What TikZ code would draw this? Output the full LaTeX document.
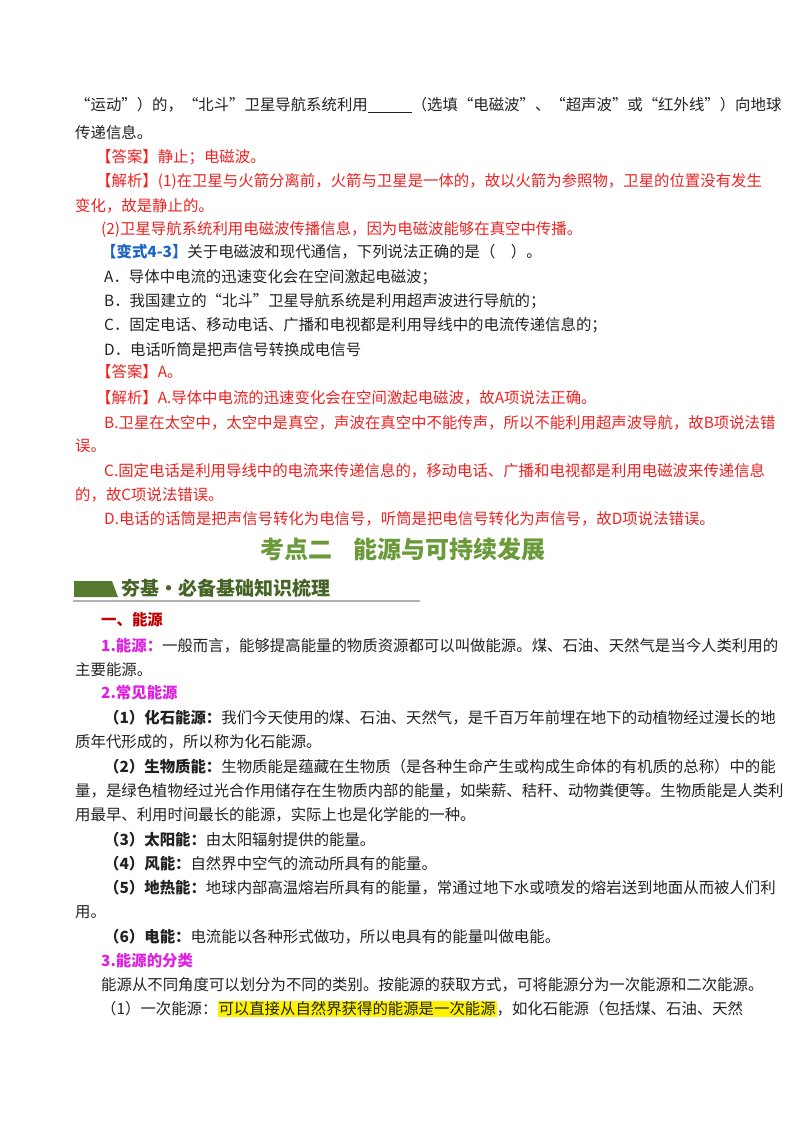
\documentclass[tikz,border=0pt]{standalone}
\usepackage{fontspec}
\setmainfont{Noto Sans CJK SC}
\definecolor{ansred}{HTML}{EE2222}
\definecolor{varblue}{HTML}{1E64C8}
\definecolor{kdgreen}{HTML}{6B9A3A}
\definecolor{sechead}{HTML}{C00000}
\definecolor{subhead}{HTML}{E020E0}
\definecolor{bodytext}{HTML}{222222}
\tikzset{
  txt/.style={anchor=west, inner sep=0pt, font=\fontsize{15.4}{18}\selectfont, text=bodytext},
  red/.style={txt, text=ansred},
}
\begin{document}
\begin{tikzpicture}[x=1pt, y=-1pt]
    \useasboundingbox[fill=white] (0,0) rectangle (800,1132);
    % 上一题的结尾
    \node[txt] (t1) at (75,105) {“运动”）的，“北斗”卫星导航系统利用\underline{\hspace{44pt}}（选填“电磁波”、“超声波”或“红外线”）向地球};
    \node[txt] (t2) at (75,133) {传递信息。};
    \node[red] (t3) at (96,157) {【答案】静止；电磁波。};
    \node[red] (t4) at (96,181) {【解析】(1)在卫星与火箭分离前，火箭与卫星是一体的，故以火箭为参照物，卫星的位置没有发生};
    \node[red] (t5) at (75,206) {变化，故是静止的。};
    \node[red] (t6) at (101,229) {(2)卫星导航系统利用电磁波传播信息，因为电磁波能够在真空中传播。};
    % 变式 4-3
    \node[txt] (v1) at (101,252) {\textcolor{varblue}{\bfseries【变式4-3】}关于电磁波和现代通信，下列说法正确的是（\quad ）。};
    \node[txt] (v2) at (104,277) {A．导体中电流的迅速变化会在空间激起电磁波；};
    \node[txt] (v3) at (104,301) {B．我国建立的“北斗”卫星导航系统是利用超声波进行导航的；};
    \node[txt] (v4) at (104,325) {C．固定电话、移动电话、广播和电视都是利用导线中的电流传递信息的；};
    \node[txt] (v5) at (104,350) {D．电话听筒是把声信号转换成电信号};
    \node[red] (v6) at (96,372) {【答案】A。};
    \node[red] (v7) at (96,398) {【解析】A.导体中电流的迅速变化会在空间激起电磁波，故A项说法正确。};
    \node[red] (v8) at (104,423) {B.卫星在太空中，太空中是真空，声波在真空中不能传声，所以不能利用超声波导航，故B项说法错};
    \node[red] (v9) at (75,446) {误。};
    \node[red] (v10) at (104,471) {C.固定电话是利用导线中的电流来传递信息的，移动电话、广播和电视都是利用电磁波来传递信息};
    \node[red] (v11) at (75,495) {的，故C项说法错误。};
    \node[red] (v12) at (104,519) {D.电话的话筒是把声信号转化为电信号，听筒是把电信号转化为声信号，故D项说法错误。};
    % 考点二
    \node[anchor=center, inner sep=0pt, font=\fontsize{24}{28}\selectfont\bfseries, text=kdgreen] (kd) at (403,549) {考点二\hspace{22pt}能源与可持续发展};
    \fill[kdgreen!80!black] (74,581) -- (112,581) -- (118,597) -- (74,597) -- cycle;
    \node[anchor=west, inner sep=0pt, font=\fontsize{19}{22}\selectfont\bfseries, text=kdgreen!65!black] (bn) at (121,588) {夯基·必备基础知识梳理};
    \draw[gray!60, line width=1.2pt] (73,601) -- (420,601);
    % 一、能源
    \node[txt, text=sechead, font=\fontsize{15.4}{18}\selectfont\bfseries] (s1) at (101,620) {一、能源};
    \node[txt] (a1) at (101,646) {\textcolor{subhead}{\bfseries 1.能源：}一般而言，能够提高能量的物质资源都可以叫做能源。煤、石油、天然气是当今人类利用的};
    \node[txt] (a2) at (75,670) {主要能源。};
    \node[txt, text=subhead, font=\fontsize{15.4}{18}\selectfont\bfseries] (a3) at (101,693) {2.常见能源};
    \node[txt] (b1) at (104,718) {\textbf{（1）化石能源：}我们今天使用的煤、石油、天然气，是千百万年前埋在地下的动植物经过漫长的地};
    \node[txt] (b2) at (75,742) {质年代形成的，所以称为化石能源。};
    \node[txt] (b3) at (104,767) {\textbf{（2）生物质能：}生物质能是蕴藏在生物质（是各种生命产生或构成生命体的有机质的总称）中的能};
    \node[txt] (b4) at (75,791) {量，是绿色植物经过光合作用储存在生物质内部的能量，如柴薪、秸秆、动物粪便等。生物质能是人类利};
    \node[txt] (b5) at (75,815) {用最早、利用时间最长的能源，实际上也是化学能的一种。};
    \node[txt] (b6) at (104,840) {\textbf{（3）太阳能：}由太阳辐射提供的能量。};
    \node[txt] (b7) at (104,864) {\textbf{（4）风能：}自然界中空气的流动所具有的能量。};
    \node[txt] (b8) at (104,888) {\textbf{（5）地热能：}地球内部高温熔岩所具有的能量，常通过地下水或喷发的熔岩送到地面从而被人们利};
    \node[txt] (b9) at (75,912) {用。};
    \node[txt] (b10) at (104,937) {\textbf{（6）电能：}电流能以各种形式做功，所以电具有的能量叫做电能。};
    \node[txt, text=subhead, font=\fontsize{15.4}{18}\selectfont\bfseries] (c1) at (101,961) {3.能源的分类};
    \node[txt] (c2) at (101,985) {能源从不同角度可以划分为不同的类别。按能源的获取方式，可将能源分为一次能源和二次能源。};
    \node[txt] (c3) at (101,1009) {（1）一次能源：{\fboxsep=1pt\colorbox{yellow}{可以直接从自然界获得的能源是一次能源}}，如化石能源（包括煤、石油、天然};
\end{tikzpicture}
\end{document}
